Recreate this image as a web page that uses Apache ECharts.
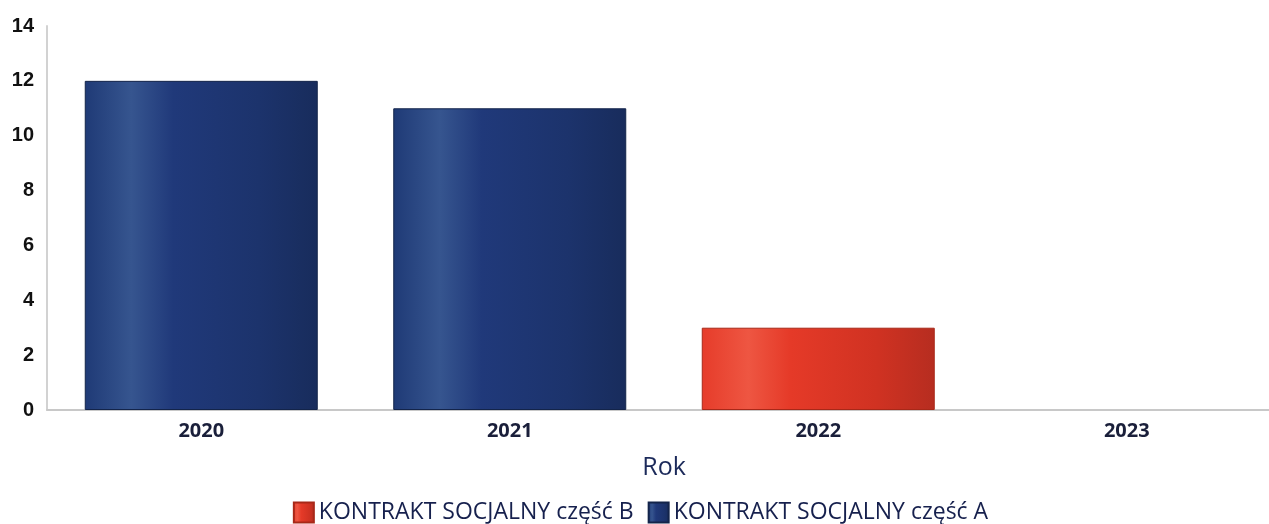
<!DOCTYPE html>
<html><head><meta charset="utf-8">
<script src="https://cdn.jsdelivr.net/npm/echarts@6/dist/echarts.min.js"></script>
<style>html,body{margin:0;padding:0;background:#fff;overflow:hidden;width:1269px;height:524px}#c{width:1281px;height:524px}</style>
</head><body><div id="c"></div>
<script>
const categories = ['2020', '2021', '2022', '2023'];
const seriesBName = 'KONTRAKT SOCJALNY część B';
const seriesAName = 'KONTRAKT SOCJALNY część A';
const seriesB = [null, null, 3, null];
const seriesA = [12, 11, null, null];
const yTicks = { min: 0, max: 14, interval: 2 };

function grad(stops){
  return new echarts.graphic.LinearGradient(0,0,1,0, stops.map((c)=>({offset:c[0], color:c[1]})));
}
const blueGrad = grad([[0,'#1f3a76'],[0.2,'#36558f'],[0.38,'#20397a'],[0.75,'#1c336c'],[1,'#182c5c']]);
const redGrad = grad([[0,'#e63c2a'],[0.2,'#ee5642'],[0.38,'#e53a28'],[0.75,'#d03222'],[1,'#b62d20']]);

const chart = echarts.init(document.getElementById('c'), null, {renderer:'canvas'});
chart.setOption({
  animation: false,
  backgroundColor: '#fff',
  grid: { left: 47, top: 26, right: 0, height: 384, containLabel: false },
  legend: {
    data: [seriesBName, seriesAName],
    top: 496, left: 'center',
    itemWidth: 20, itemHeight: 20, itemGap: 14,
    textStyle: { fontFamily: 'Open Sans', fontSize: 23, lineHeight: 22, color: '#16204d' },
    icon: 'rect'
  },
  xAxis: {
    type: 'category', data: categories,
    name: 'Rok', nameLocation: 'middle', nameGap: 45,
    nameTextStyle: { fontFamily: 'Open Sans', fontSize: 25, color: '#1c2a5a' },
    axisLine: { lineStyle: { color: '#c8c8c8', width: 2 } },
    axisTick: { show: false },
    axisLabel: { fontFamily: 'Open Sans', fontWeight: 'bold', fontSize: 20, color: '#1a1f3a', margin: 11 }
  },
  yAxis: {
    type: 'value', min: yTicks.min, max: yTicks.max, interval: yTicks.interval,
    axisLine: { show: true, lineStyle: { color: '#d2d2d2', width: 2 } },
    axisTick: { show: false },
    splitLine: { show: false },
    axisLabel: { fontFamily: 'Liberation Sans', fontWeight: 'bold', fontSize: 20, color: '#111', margin: 13 }
  },
  series: [
    { name: seriesBName, type: 'bar', stack: 's', data: seriesB, barWidth: 233,
      itemStyle: { color: redGrad, borderColor: '#a82818', borderWidth: 1 } },
    { name: seriesAName, type: 'bar', stack: 's', data: seriesA, barWidth: 233,
      itemStyle: { color: blueGrad, borderColor: '#13244a', borderWidth: 1 } }
  ]
});
</script></body></html>
